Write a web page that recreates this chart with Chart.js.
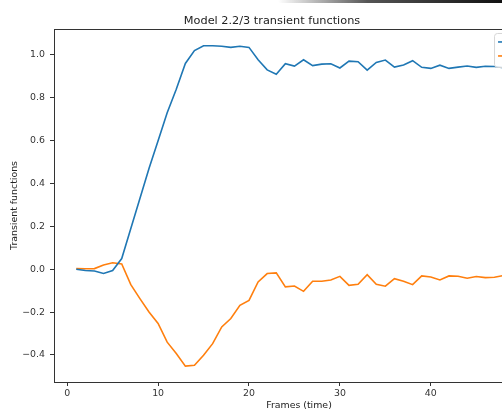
<!DOCTYPE html>
<html>
<head>
<meta charset="utf-8">
<script src="https://cdn.jsdelivr.net/npm/chart.js@4/dist/chart.umd.min.js"></script>
<style>
  html, body { margin: 0; padding: 0; background: #fff; overflow: hidden; width: 502px; height: 409px; }
  #wrap { position: relative; width: 502px; height: 409px; overflow: hidden; }
  canvas { position: absolute; left: 0; top: 0; filter: blur(0.3px); }
  #edge { position: absolute; top: 0; left: 278px; width: 224px; height: 3px;
          background: linear-gradient(to right, rgba(0,0,0,0), #555 40%, #111); border-bottom-left-radius: 3px; }
</style>
</head>
<body>
<div id="wrap">
  <canvas id="canvas" width="600" height="420"></canvas>
  <div id="edge"></div>
</div>
<script>
  // frames and the two transient functions
  const frames = [1, 2, 3, 4, 5, 6, 7, 8, 9, 10, 11, 12, 13, 14, 15, 16, 17, 18, 19, 20,
    21, 22, 23, 24, 25, 26, 27, 28, 29, 30, 31, 32, 33, 34, 35, 36, 37, 38, 39, 40,
    41, 42, 43, 44, 45, 46, 47, 48, 49, 50]
  const series0 = [0.0, -0.006, -0.008, -0.02, -0.006, 0.05, 0.19, 0.33, 0.47, 0.60,
    0.73, 0.84, 0.96, 1.02, 1.043, 1.043, 1.04, 1.035, 1.04, 1.035,
    0.977, 0.93, 0.91, 0.959, 0.948, 0.977, 0.95, 0.957, 0.959, 0.939,
    0.971, 0.968, 0.929, 0.965, 0.976, 0.943, 0.953, 0.973, 0.942, 0.937,
    0.952, 0.937, 0.943, 0.948, 0.942, 0.947, 0.946, 0.94, 0.945, 0.943]
  const series1 = [0.003, 0.002, 0.003, 0.02, 0.03, 0.025, -0.072, -0.137, -0.199, -0.253,
    -0.34, -0.393, -0.452, -0.448, -0.401, -0.347, -0.269, -0.23, -0.168, -0.145,
    -0.059, -0.02, -0.017, -0.082, -0.078, -0.103, -0.056, -0.056, -0.05, -0.033,
    -0.075, -0.07, -0.025, -0.07, -0.079, -0.044, -0.056, -0.072, -0.031, -0.036,
    -0.05, -0.031, -0.033, -0.042, -0.034, -0.039, -0.037, -0.029, -0.033, -0.031]
  const seriesLabels = ["0", "1"]
  const xTicks = [0, 10, 20, 30, 40, 50]
  const yTicks = [-0.4, -0.2, 0.0, 0.2, 0.4, 0.6, 0.8, 1.0]

  const font = "'DejaVu Sans', sans-serif"
  const ink = "#333"

  // matplotlib style box around the plot
  const frameBox = {
    id: "frameBox",
    afterDraw(chart) {
      const { ctx, chartArea: a } = chart
      ctx.save()
      ctx.strokeStyle = ink
      ctx.lineWidth = 1
      ctx.strokeRect(Math.round(a.left) + 0.5, Math.round(a.top) + 0.5,
        Math.round(a.right - a.left), Math.round(a.bottom - a.top))
      ctx.restore()
    }
  }

  // legend in the upper right corner of the axes
  const cornerLegend = {
    id: "cornerLegend",
    afterDraw(chart) {
      const { ctx, chartArea: a } = chart
      const sets = chart.data.datasets
      ctx.save()
      ctx.font = "9.4px " + font
      const textW = Math.max(...sets.map(d => ctx.measureText(d.label).width))
      const w = 4 + 20 + 8 + textW + 7
      const h = 8 + sets.length * 13
      const x = a.right - 5 - w
      const y = a.top + 4
      ctx.fillStyle = "rgba(255,255,255,0.8)"
      ctx.strokeStyle = "#d6d6d6"
      ctx.lineWidth = 1
      ctx.beginPath()
      ctx.roundRect(x + 0.5, y + 0.5, w, h, 3)
      ctx.fill()
      ctx.stroke()
      sets.forEach((d, i) => {
        const cy = y + 9 + i * 14
        ctx.strokeStyle = d.borderColor
        ctx.lineWidth = 1.6
        ctx.beginPath()
        ctx.moveTo(x + 4, cy)
        ctx.lineTo(x + 24, cy)
        ctx.stroke()
        ctx.fillStyle = ink
        ctx.textBaseline = "middle"
        ctx.fillText(d.label, x + 32, cy)
      })
      ctx.restore()
    }
  }

  const toPoints = (vals) => frames.map((f, i) => ({ x: f, y: vals[i] }))
  const minus = (s) => String(s).replace("-", "\u2212")

  new Chart(document.getElementById("canvas").getContext("2d"), {
    type: "line",
    data: {
      datasets: [
        { label: seriesLabels[0], data: toPoints(series0), borderColor: "#1f77b4", borderWidth: 1.6, pointRadius: 0, tension: 0 },
        { label: seriesLabels[1], data: toPoints(series1), borderColor: "#ff7f0e", borderWidth: 1.6, pointRadius: 0, tension: 0 }
      ]
    },
    options: {
      responsive: false,
      animation: false,
      devicePixelRatio: 1,
      layout: { padding: { left: 0, right: 56, top: 0, bottom: 0 } },
      plugins: {
        legend: { display: false },
        tooltip: { enabled: false },
        title: {
          display: true,
          text: "Model 2.2/3 transient functions",
          color: "#222",
          font: { family: font, size: 11.3, weight: "normal" },
          padding: { top: 13.8, bottom: 1.6 }
        }
      },
      scales: {
        x: {
          type: "linear",
          min: -1.45,
          max: 52.45,
          afterBuildTicks: (s) => { s.ticks = xTicks.map(v => ({ value: v })) },
          afterFit: (s) => { s.height = 38 },
          grid: { drawOnChartArea: false, drawTicks: true, tickLength: 4, color: ink },
          border: { display: false },
          ticks: { color: ink, padding: 2, maxRotation: 0, font: { family: font, size: 9.4 }, callback: (v) => minus(v) },
          title: { display: true, text: "Frames (time)", color: "#222", font: { family: font, size: 9.4 }, padding: { top: 0, bottom: 8.9 } }
        },
        y: {
          min: -0.526,
          max: 1.121,
          afterBuildTicks: (s) => { s.ticks = yTicks.map(v => ({ value: v })) },
          afterFit: (s) => { s.width = 54 },
          grid: { drawOnChartArea: false, drawTicks: true, tickLength: 4, color: ink },
          border: { display: false },
          ticks: { color: ink, padding: 5, font: { family: font, size: 9.4 }, callback: (v) => minus(Number(v).toFixed(1)) },
          title: { display: true, text: "Transient functions", color: "#222", font: { family: font, size: 9.4 }, padding: { top: 9.4, bottom: 0 } }
        }
      }
    },
    plugins: [frameBox, cornerLegend]
  })
</script>
</body>
</html>
